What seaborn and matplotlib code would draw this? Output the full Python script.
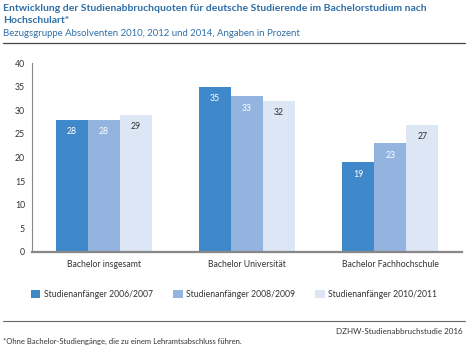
import matplotlib
matplotlib.use("Agg")
import matplotlib.pyplot as plt
import seaborn as sns
import pandas as pd
from matplotlib.patches import Patch
from matplotlib.lines import Line2D

categories = ["Bachelor insgesamt", "Bachelor Universität", "Bachelor Fachhochschule"]
series = ["Studienanfänger 2006/2007", "Studienanfänger 2008/2009", "Studienanfänger 2010/2011"]
values_2006 = [28, 35, 19]
values_2008 = [28, 33, 23]
values_2010 = [29, 32, 27]
yticks = [0, 5, 10, 15, 20, 25, 30, 35, 40]

colors = ["#3f88c9", "#93b4df", "#dde6f4"]
label_colors = ["white", "white", "#333333"]

rows = []
for s, vals in zip(series, [values_2006, values_2008, values_2010]):
    for c, v in zip(categories, vals):
        rows.append({"cat": c, "series": s, "val": v})
df = pd.DataFrame(rows)

sns.set_theme(style="white")
plt.rcParams['font.family'] = ['Lato', 'DejaVu Sans']

fig = plt.figure(figsize=(4.70, 3.49), dpi=100)
ax = fig.add_axes([0.068, 0.278, 0.915, 0.541])
sns.barplot(data=df, x="cat", y="val", hue="series", palette=colors,
            width=0.67, saturation=1, ax=ax, legend=False, errorbar=None,
            linewidth=0, edgecolor="none")

ax.set_xlim(-0.5, 2.5)
ax.set_ylim(0, 40)
ax.set_yticks(yticks)
ax.set_yticklabels([str(t) for t in yticks], fontsize=6.3, color="#333333")
ax.tick_params(axis="x", labelsize=6.2, colors="#333333", length=0, pad=6)
ax.tick_params(axis="y", length=0, pad=5)
ax.set_xlabel("")
ax.set_ylabel("")
for sp in ["top", "right"]:
    ax.spines[sp].set_visible(False)
ax.spines["left"].set_color("#888888")
ax.spines["left"].set_linewidth(0.8)
ax.spines["bottom"].set_color("#888888")
ax.spines["bottom"].set_linewidth(1.6)

for i, cont in enumerate(ax.containers):
    for bar in cont:
        h = bar.get_height()
        ax.text(bar.get_x() + bar.get_width() / 2, h - 2.5, f"{int(h)}",
                ha="center", va="center", fontsize=6.3, color=label_colors[i])

title_color = "#2f6fa8"
fig.text(0.006, 0.976, "Entwicklung der Studienabbruchquoten für deutsche Studierende im Bachelorstudium nach",
         fontsize=7.45, fontweight="bold", color=title_color, va="center", ha="left")
fig.text(0.006, 0.940, "Hochschulart*",
         fontsize=7.45, fontweight="bold", color=title_color, va="center", ha="left")
fig.text(0.006, 0.903, "Bezugsgruppe Absolventen 2010, 2012 und 2014, Angaben in Prozent",
         fontsize=6.95, color=title_color, va="center", ha="left")
fig.add_artist(Line2D([0.006, 0.99], [0.877, 0.877], color="#444444", linewidth=0.9))

handles = [Patch(facecolor=c, edgecolor="none") for c in colors]
leg = fig.legend(handles, series, loc="center left", bbox_to_anchor=(0.066, 0.157), ncol=3,
                 frameon=False, fontsize=6.2, handlelength=1.1, handleheight=1.1,
                 handletextpad=0.35, columnspacing=2.4, borderaxespad=0, borderpad=0)
for t in leg.get_texts():
    t.set_color("#333333")

fig.add_artist(Line2D([0.006, 0.99], [0.080, 0.080], color="#666666", linewidth=0.8))
fig.text(0.985, 0.050, "DZHW-Studienabbruchstudie 2016", fontsize=5.75, color="#333333",
         ha="right", va="center")
fig.text(0.006, 0.022, "*Ohne Bachelor-Studiengänge, die zu einem Lehramtsabschluss führen.",
         fontsize=5.5, color="#333333", ha="left", va="center")

fig.savefig("out.png", dpi=100)
